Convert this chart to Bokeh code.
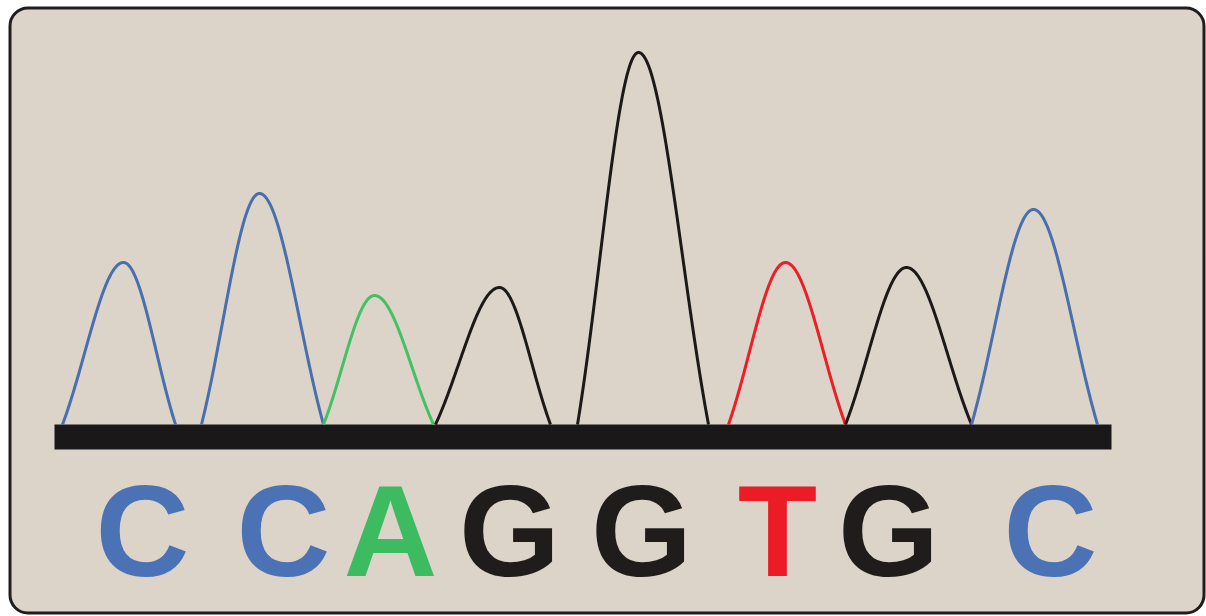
import numpy as np
from bokeh.plotting import figure
from bokeh.models import Range1d, BoxAnnotation, ColumnDataSource
from bokeh.core.properties import value
from bokeh.embed import file_html
from bokeh.resources import INLINE

# ---- data ----
bases = ["C", "C", "A", "G", "G", "T", "G", "C"]
base_pos = [142, 283, 390, 509, 641, 777, 888, 1050]          # letter centres
peak_start = [62, 201, 323, 435, 577, 728, 845, 971]
peak_apex = [123, 259, 374, 499, 638, 785, 906, 1033]
peak_end = [175, 323, 433, 550, 708, 845, 971, 1097]
peak_height = [162, 231, 129, 137, 372, 162, 157, 215]
trace_start, trace_end = 54, 1111

base_colors = {"C": "#4a72b4", "A": "#3dbb60", "G": "#1f1c1b", "T": "#ec1c26"}
line_colors = {"C": "#4a6fae", "A": "#45c064", "G": "#1c1a19", "T": "#ea1f28"}

W, H = 1206, 616
p = figure(width=W, height=H, output_backend="svg", toolbar_location=None,
           x_range=Range1d(0, W), y_range=Range1d(-192, 424), min_border=0)
p.axis.visible = False
p.grid.visible = False
p.outline_line_color = None
p.background_fill_color = "white"
p.border_fill_color = "white"

frame = BoxAnnotation(left=9.5, right=1203.5, bottom=-188.5, top=416.5,
                      fill_color="#dcd4c9", fill_alpha=1.0,
                      line_color="#1e1e1e", line_width=3, line_alpha=1.0,
                      border_radius=18, level="underlay")
p.add_layout(frame)

# baseline bar
p.quad(left=[trace_start], right=[trace_end], bottom=[-25], top=[0],
       fill_color="#1a1818", line_color=None)


def peak_curve(s, a, e, h, k=1.25, n=80):
    g1 = np.exp(-k)
    xl = np.linspace(s, a, n)
    tl = (xl - a) / (a - s)
    xr = np.linspace(a, e, n)[1:]
    tr = (xr - a) / (e - a)
    x = np.concatenate([xl, xr])
    t = np.concatenate([tl, tr])
    y = h * (np.exp(-k * t ** 2) - g1) / (1 - g1)
    return x, y


for b, s, a, e, h in zip(bases, peak_start, peak_apex, peak_end, peak_height):
    x, y = peak_curve(s, a, e, h)
    p.line(x, y, line_color=line_colors[b], line_width=3, line_join="round")

src = ColumnDataSource(dict(x=base_pos, y=[-106.5] * len(bases), text=bases,
                            color=[base_colors[b] for b in bases]))
p.text(x="x", y="y", text="text", text_color="color", source=src,
       text_font=value("Liberation Sans"), text_font_style="bold",
       text_font_size="130px", text_align="center", text_baseline="middle")

open("out.html", "w").write(file_html(p, INLINE))
